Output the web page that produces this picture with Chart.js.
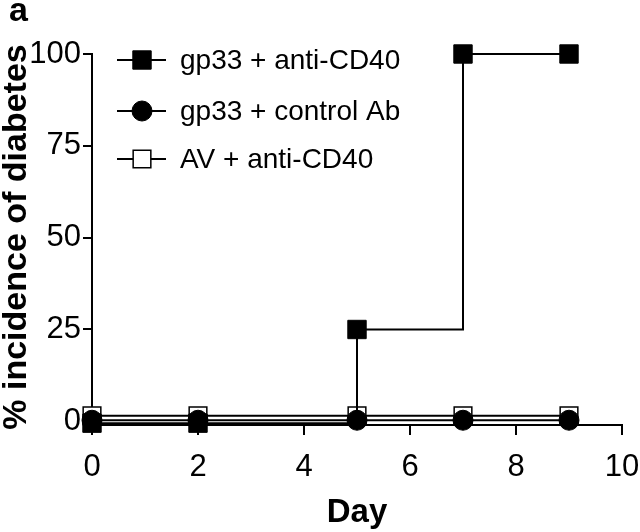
<!DOCTYPE html>
<html>
<head>
<meta charset="utf-8">
<script src="https://cdn.jsdelivr.net/npm/chart.js@4.4.1/dist/chart.umd.min.js"></script>
<style>
    html, body { margin: 0; padding: 0; background: #fff; }
    #wrap { width: 640px; height: 532px; }
</style>
</head>
<body>
<div id="wrap"><canvas id="diabetesChart" width="640" height="532"></canvas></div>
<script>
// Days and % incidence per group (small offsets kept as seen in the figure)
const days = [0, 2, 5, 7, 9];
const antiCD40 = [-0.5, -0.5, 25, 100, 100];
const controlAb = [0.3, 0.3, 0.3, 0.3, 0.3];
const avAntiCD40 = [1.5, 1.5, 1.5, 1.5, 1.5];

const seriesNames = ["gp33 + anti-CD40", "gp33 + control Ab", "AV + anti-CD40"];
const xTicks = [0, 2, 4, 6, 8, 10];
const yTicks = [0, 25, 50, 75, 100];

const FONT = "'Liberation Sans', Arial, Helvetica, sans-serif";

function toPoints(values) {
    return days.map((d, i) => ({ x: d, y: values[i] }));
}

// Legend, panel letter and axis titles drawn by hand
const decorations = {
    id: "decorations",
    afterDraw(chart) {
        const ctx = chart.ctx;
        const area = chart.chartArea;
        ctx.save();
        ctx.fillStyle = "#000";
        ctx.strokeStyle = "#000";

        // panel letter
        ctx.font = "bold 34px " + FONT;
        ctx.textAlign = "left";
        ctx.textBaseline = "middle";
        ctx.fillText("a", 9, 12);

        // axis titles
        ctx.font = "bold 33px " + FONT;
        ctx.textAlign = "center";
        ctx.fillText("Day", (area.left + area.right) / 2, 513);
        ctx.save();
        ctx.font = "bold 34px " + FONT;
        ctx.translate(17, 237);
        ctx.rotate(-Math.PI / 2);
        ctx.fillText("% incidence of diabetes", 0, 0);
        ctx.restore();

        // legend
        const rows = [60, 111, 159];
        ctx.font = "28px " + FONT;
        ctx.textAlign = "left";
        chart.data.datasets.forEach((ds, i) => {
            const y = rows[i];
            ctx.strokeStyle = "#000";
            ctx.lineWidth = 2;
            ctx.beginPath();
            ctx.moveTo(117, y);
            ctx.lineTo(166, y);
            ctx.stroke();
            ctx.fillStyle = ds.pointBackgroundColor;
            ctx.lineWidth = ds.pointBorderWidth;
            ctx.beginPath();
            if (ds.pointStyle === "circle") {
                ctx.arc(142, y, ds.pointRadius, 0, Math.PI * 2);
            } else {
                const s = ds.pointRadius * Math.SQRT1_2;
                ctx.rect(142 - s, y - s, 2 * s, 2 * s);
            }
            ctx.fill();
            ctx.stroke();
            ctx.fillStyle = "#000";
            ctx.fillText(seriesNames[i], 180, y + 1);
        });
        ctx.restore();
    }
};

const ctx = document.getElementById("diabetesChart").getContext("2d");
new Chart(ctx, {
    type: "line",
    data: {
        datasets: [
            {
                label: seriesNames[0],
                data: toPoints(antiCD40),
                stepped: true,
                borderColor: "#000",
                borderWidth: 2,
                pointStyle: "rect",
                pointRadius: 13,
                pointBackgroundColor: "#000",
                pointBorderColor: "#000",
                pointBorderWidth: 1,
                clip: false
            },
            {
                label: seriesNames[1],
                data: toPoints(controlAb),
                borderColor: "#000",
                borderWidth: 2,
                pointStyle: "circle",
                pointRadius: 10,
                pointBackgroundColor: "#000",
                pointBorderColor: "#000",
                pointBorderWidth: 1,
                clip: false
            },
            {
                label: seriesNames[2],
                data: toPoints(avAntiCD40),
                borderColor: "#000",
                borderWidth: 2,
                pointStyle: "rect",
                pointRadius: 12.5,
                pointBackgroundColor: "#fff",
                pointBorderColor: "#000",
                pointBorderWidth: 1.5,
                clip: false
            }
        ]
    },
    options: {
        responsive: false,
        animation: false,
        layout: { padding: { top: 54, right: 0, bottom: 0, left: 0 } },
        plugins: {
            legend: { display: false },
            tooltip: { enabled: false }
        },
        scales: {
            x: {
                type: "linear",
                min: 0,
                max: 10,
                afterBuildTicks: scale => { scale.ticks = xTicks.map(v => ({ value: v })); },
                afterFit: scale => { scale.height = 107; scale.paddingRight = 18; },
                grid: { drawOnChartArea: false, drawTicks: true, tickLength: 10, color: "#000", lineWidth: 2 },
                border: { display: true, color: "#000", width: 2 },
                ticks: { color: "#000", padding: 14, font: { family: FONT, size: 31 } }
            },
            y: {
                type: "linear",
                min: -1,
                max: 100,
                afterBuildTicks: scale => { scale.ticks = yTicks.map(v => ({ value: v })); },
                afterFit: scale => { scale.width = 92; },
                grid: { drawOnChartArea: false, drawTicks: true, tickLength: 9, color: "#000", lineWidth: 2 },
                border: { display: true, color: "#000", width: 2 },
                ticks: { color: "#000", padding: 2, font: { family: FONT, size: 31 } }
            }
        }
    },
    plugins: [decorations]
});
</script>
</body>
</html>
